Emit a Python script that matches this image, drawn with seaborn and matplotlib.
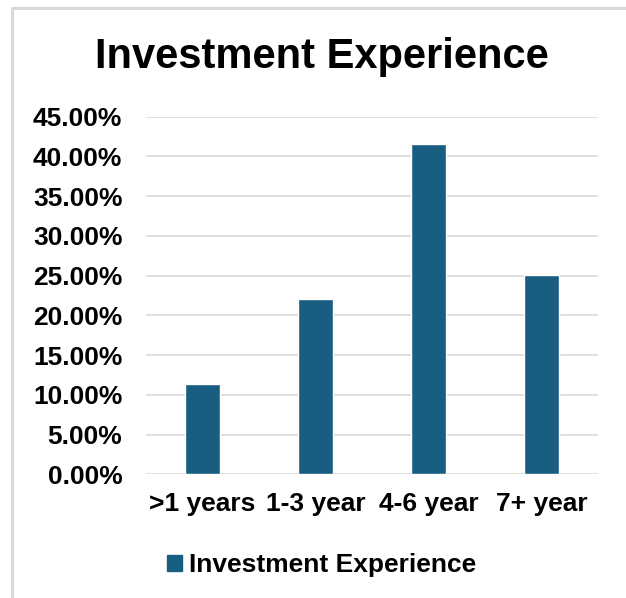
import matplotlib
matplotlib.use("Agg")
import matplotlib.pyplot as plt
import matplotlib.patches as mpatches
from matplotlib.ticker import PercentFormatter
import seaborn as sns
import pandas as pd

categories = [">1 years", "1-3 year", "4-6 year", "7+ year"]
shares = [11.3, 22.0, 41.5, 25.1]
series_name = "Investment Experience"
yticks = [0, 5, 10, 15, 20, 25, 30, 35, 40, 45]

bar_color = "#185E80"
grid_color = "#D9D9D9"
font = "Liberation Sans"

sns.set_theme(style="white")
plt.rcParams["font.family"] = [font, "DejaVu Sans"]

df = pd.DataFrame({"category": categories, "share": shares})

fig = plt.figure(figsize=(6.26, 5.98), dpi=100)
ax = fig.add_axes([0.2332, 0.2069, 0.9553 - 0.2332, 0.8049 - 0.2069])

sns.barplot(data=df, x="category", y="share", color=bar_color, width=0.31,
            saturation=1, ax=ax, zorder=3)

ax.set_ylim(0, 45)
ax.set_yticks(yticks)
ax.yaxis.set_major_formatter(PercentFormatter(decimals=2))
ax.set_xlim(-0.5, len(categories) - 0.5)
ax.grid(axis="y", color=grid_color, linewidth=1.2, zorder=0)
ax.grid(axis="x", visible=False)
for s in ax.spines.values():
    s.set_visible(False)
ax.set_xlabel("")
ax.set_ylabel("")
ax.tick_params(axis="y", length=0, pad=17, labelsize=19, labelcolor="black")
ax.tick_params(axis="x", length=0, pad=13, labelsize=19, labelcolor="black")
for lab in ax.get_xticklabels() + ax.get_yticklabels():
    lab.set_fontweight("bold")

fig.text(0.514, 0.905, series_name, ha="center", va="center",
         fontsize=30, fontweight="bold", color="black")

handle = mpatches.Patch(color=bar_color, label=series_name)
leg = fig.legend(handles=[handle], loc="center", bbox_to_anchor=(0.514, 0.055),
                 frameon=False, prop={"size": 19, "weight": "bold"},
                 handlelength=0.55, handleheight=0.55, handletextpad=0.28)
for t in leg.get_texts():
    t.set_color("black")

# chart-area frame along the left and top edges
fig.add_artist(plt.Line2D([0.0192, 0.0192], [0, 0.987], transform=fig.transFigure,
                          color=grid_color, linewidth=2.2))
fig.add_artist(plt.Line2D([0.0192, 1], [0.987, 0.987], transform=fig.transFigure,
                          color=grid_color, linewidth=2.2))

fig.savefig("out.png", dpi=100)
